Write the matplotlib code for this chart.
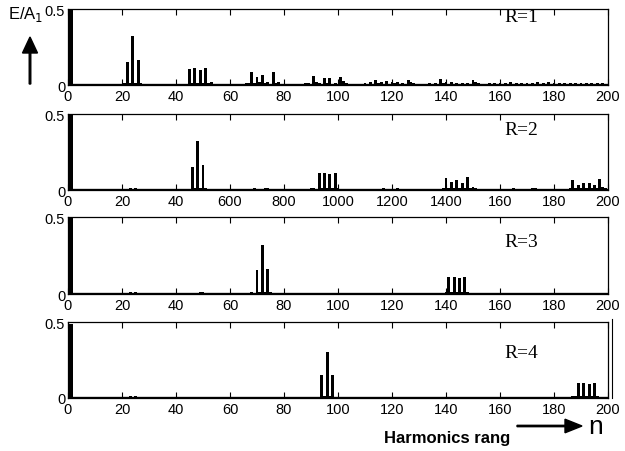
import matplotlib.pyplot as plt

# harmonic order n and amplitude E/A1, one pair of lists per panel
r1_n = [1, 21, 22, 23, 24, 25, 26, 27, 28,
        43, 45, 46, 47, 48, 49, 50, 51, 52, 53,
        66, 67, 68, 69, 70, 71, 72, 73, 74, 76, 77, 78,
        88, 89, 91, 92, 93, 95, 96, 97, 99, 101, 102, 103,
        110, 112, 114, 115, 116, 118, 120, 121, 122, 124, 126, 127, 128,
        134, 136, 138, 139, 140, 142, 144, 146, 148, 150, 151, 152,
        156, 158, 160, 162, 164, 166, 168, 170, 172, 174, 176, 178, 180,
        182, 184, 186, 188, 190, 192, 194, 196, 198]
r1_e = [0.5, 0.01, 0.153, 0.012, 0.322, 0.012, 0.164, 0.01, 0.005,
        0.005, 0.105, 0.015, 0.11, 0.01, 0.1, 0.01, 0.11, 0.015, 0.02,
        0.01, 0.01, 0.083, 0.015, 0.05, 0.02, 0.064, 0.015, 0.02, 0.083, 0.01, 0.02,
        0.01, 0.015, 0.06, 0.02, 0.01, 0.045, 0.01, 0.045, 0.01, 0.055, 0.025, 0.01,
        0.01, 0.02, 0.035, 0.015, 0.02, 0.025, 0.02, 0.01, 0.02, 0.015, 0.035, 0.02, 0.01,
        0.01, 0.015, 0.04, 0.015, 0.02, 0.02, 0.015, 0.01, 0.015, 0.03, 0.02, 0.015,
        0.01, 0.01, 0.015, 0.015, 0.02, 0.015, 0.01, 0.015, 0.01, 0.02, 0.015, 0.02, 0.015,
        0.01, 0.01, 0.01, 0.01, 0.015, 0.01, 0.01, 0.01, 0.01]

r2_n = [1, 23, 25, 46, 47, 48, 49, 50, 51, 52,
        68, 69, 70, 72, 73, 74, 75, 77,
        90, 91, 93, 94, 95, 96, 97, 98, 99, 100,
        116, 117, 118, 122, 123,
        139, 140, 141, 142, 143, 144, 145, 146, 147, 148, 149, 150, 151, 152,
        164, 165, 172, 173, 174,
        186, 187, 188, 189, 190, 191, 192, 193, 194, 195, 196, 197, 198, 199]
r2_e = [0.5, 0.015, 0.015, 0.153, 0.012, 0.32, 0.012, 0.162, 0.01, 0.006,
        0.008, 0.01, 0.008, 0.008, 0.01, 0.01, 0.008, 0.006,
        0.01, 0.01, 0.11, 0.01, 0.11, 0.01, 0.105, 0.01, 0.11, 0.015,
        0.008, 0.01, 0.008, 0.01, 0.008,
        0.015, 0.078, 0.015, 0.05, 0.012, 0.066, 0.012, 0.045, 0.012, 0.084, 0.015, 0.02, 0.01, 0.006,
        0.008, 0.01, 0.01, 0.01, 0.008,
        0.01, 0.066, 0.015, 0.03, 0.015, 0.045, 0.01, 0.045, 0.01, 0.03, 0.01, 0.07, 0.02, 0.01]

r3_n = [1, 23, 25, 46, 47, 49, 50,
        68, 70, 71, 72, 73, 74, 75, 76,
        94, 95, 97, 98, 117, 118, 121, 122,
        140, 141, 142, 143, 144, 145, 146, 147, 148, 149,
        164, 165, 170, 171, 187, 188, 189, 194, 195, 197, 198]
r3_e = [0.5, 0.015, 0.015, 0.006, 0.008, 0.01, 0.01,
        0.01, 0.156, 0.012, 0.316, 0.012, 0.16, 0.01, 0.008,
        0.006, 0.008, 0.008, 0.006, 0.006, 0.008, 0.008, 0.006,
        0.015, 0.108, 0.012, 0.108, 0.012, 0.106, 0.012, 0.108, 0.012, 0.008,
        0.008, 0.008, 0.008, 0.008, 0.006, 0.008, 0.006, 0.008, 0.008, 0.008, 0.006]

r4_n = [1, 23, 25, 47, 48, 49, 71, 72, 74,
        93, 94, 95, 96, 97, 98, 99,
        118, 119, 122, 142, 143, 145, 146, 166, 167, 169, 170,
        187, 188, 189, 190, 191, 192, 193, 194, 195, 196, 198]
r4_e = [0.49, 0.012, 0.012, 0.006, 0.006, 0.006, 0.006, 0.006, 0.008,
        0.008, 0.151, 0.01, 0.305, 0.01, 0.15, 0.006,
        0.008, 0.006, 0.006, 0.005, 0.005, 0.005, 0.005, 0.005, 0.005, 0.005, 0.006,
        0.01, 0.012, 0.097, 0.012, 0.097, 0.012, 0.095, 0.012, 0.097, 0.01, 0.008]

panel_n = [r1_n, r2_n, r3_n, r4_n]
panel_e = [r1_e, r2_e, r3_e, r4_e]
panel_names = ['R=1', 'R=2', 'R=3', 'R=4']

xticks = [0, 20, 40, 60, 80, 100, 120, 140, 160, 180, 200]
xlabels = [str(t) for t in xticks]
# the second panel carries these odd labels in the original
xlabels_r2 = ['0', '20', '40', '600', '800', '1000', '1200', '1400', '160', '180', '200']

tick_font = ['Liberation Sans Narrow', 'Liberation Sans', 'DejaVu Sans']

fig = plt.figure(figsize=(6.25, 4.52), dpi=100)

# axes boxes in figure fractions (left, bottom, width, height)
boxes = [(0.1088, 0.8097, 0.864, 0.168),
         (0.1088, 0.5774, 0.864, 0.168),
         (0.1088, 0.3473, 0.864, 0.170),
         (0.1088, 0.1173, 0.864, 0.168)]
label_y = [0.9, 0.8, 0.68, 0.6]

axes = []
for i in range(4):
    ax = fig.add_axes(boxes[i])
    n = panel_n[i]
    e = panel_e[i]
    widths = [1.6 if k == 1 else 1.1 for k in n]
    ax.bar(n, e, width=widths, color='black', linewidth=0)
    ax.axhline(0, color='black', lw=2.4, zorder=3)
    ax.set_xlim(0, 200)
    ax.set_ylim(0, 0.5)
    ax.set_xticks(xticks)
    ax.set_xticklabels(xlabels_r2 if i == 1 else xlabels,
                       family=tick_font, fontsize=10.5)
    ax.set_yticks([0, 0.5])
    ax.set_yticklabels(['0', '0.5'], family=tick_font, fontsize=10.5)
    ax.tick_params(axis='x', direction='in', top=True, length=4, width=0.8, pad=3)
    ax.tick_params(axis='y', length=0, pad=2)
    for s in ax.spines.values():
        s.set_linewidth(0.9)
    ax.text(168, label_y[i] * 0.5, panel_names[i], family='Liberation Serif',
            fontsize=14, ha='center', va='center')
    axes.append(ax)

# stray double edge on the right of the last panel
axes[3].plot([201.3, 201.3], [0, 0.52], color='black', lw=0.8, clip_on=False)

# y-axis caption with an upward arrow
fig.text(26 / 625, 1 - 15 / 452, 'E/A$_1$', family='Liberation Sans',
         fontsize=12, ha='center', va='center')
fig.patches.append(plt.matplotlib.patches.FancyArrow(
    30 / 625, 1 - 85 / 452, 0, 47 / 452, width=0.0025, head_width=0.024,
    head_length=16 / 452, length_includes_head=True, color='black',
    transform=fig.transFigure, figure=fig))

# x-axis caption with a right arrow
fig.text(447 / 625, 1 - 439 / 452, 'Harmonics rang', family='Liberation Sans',
         fontweight='bold', fontsize=12, ha='center', va='center')
fig.patches.append(plt.matplotlib.patches.FancyArrow(
    517 / 625, 1 - 427 / 452, 65 / 625, 0, width=0.003, head_width=0.03,
    head_length=17 / 625, length_includes_head=True, color='black',
    transform=fig.transFigure, figure=fig))
fig.text(596 / 625, 1 - 434 / 452, 'n', family='Liberation Sans',
         fontsize=19, ha='center', va='baseline')

fig.savefig('out.png', dpi=100)
